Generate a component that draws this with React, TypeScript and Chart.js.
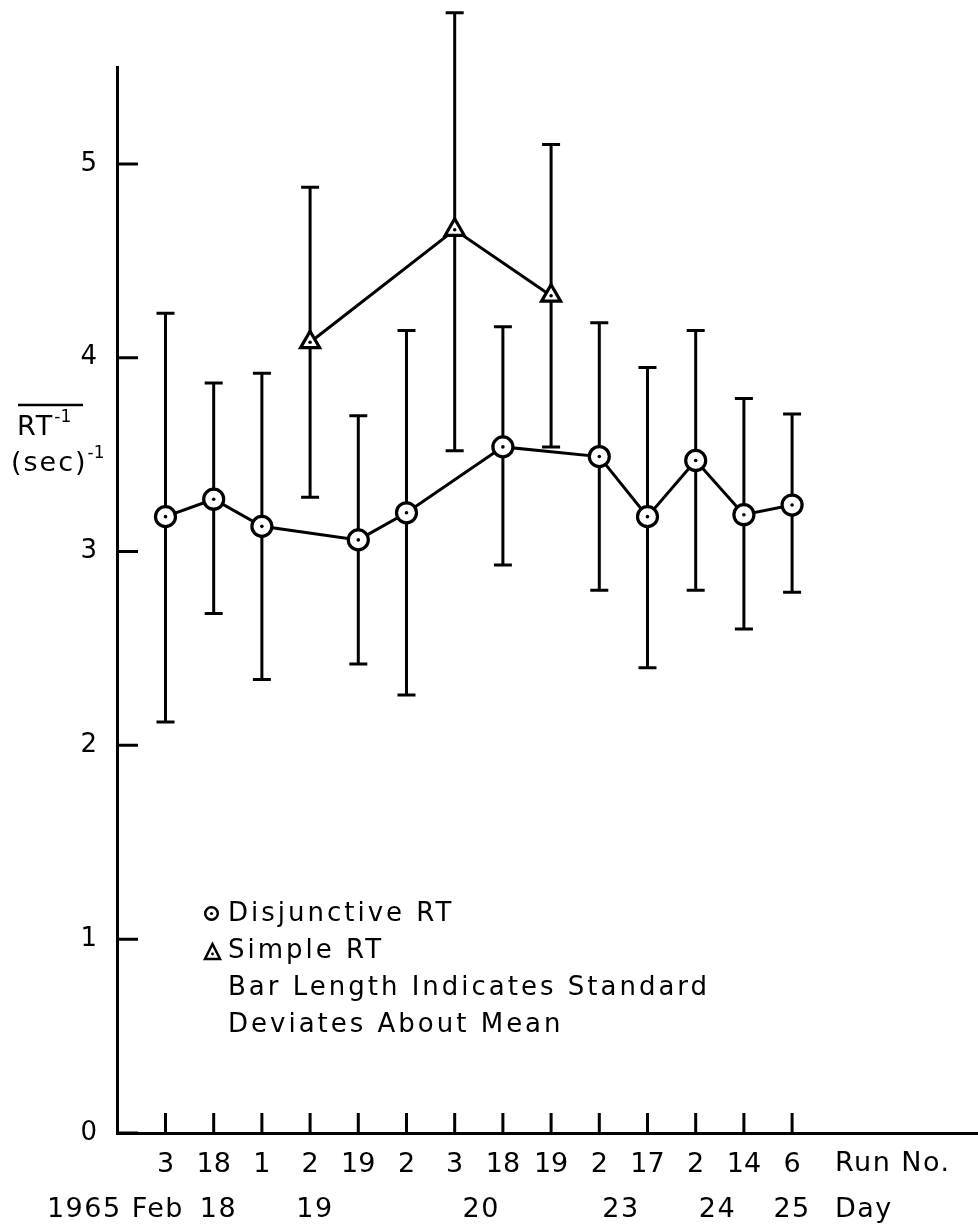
import React, { useEffect, useRef } from 'react';
import { Chart, registerables } from 'chart.js';
Chart.register(...registerables);

// Run numbers (x categories, by run index 0..13)
const runLabels = ['3', '18', '1', '2', '19', '2', '3', '18', '19', '2', '17', '2', '14', '6'];
const runIndex = [0, 1, 2, 3, 4, 5, 6, 7, 8, 9, 10, 11, 12, 13];
// Day labels and their run-index positions
const dayLabels = ['18', '19', '20', '23', '24', '25'];
const dayPositions = [1.1, 3.1, 6.55, 9.45, 11.45, 13.0];
const yTickValues = [0, 1, 2, 3, 4, 5];

// Disjunctive RT (circles)
const disjIdx = [0, 1, 2, 4, 5, 7, 9, 10, 11, 12, 13];
const disjMean = [3.18, 3.27, 3.13, 3.06, 3.2, 3.54, 3.49, 3.18, 3.47, 3.19, 3.24];
const disjHigh = [4.23, 3.87, 3.92, 3.7, 4.14, 4.16, 4.18, 3.95, 4.14, 3.79, 3.71];
const disjLow = [2.12, 2.68, 2.34, 2.42, 2.26, 2.93, 2.8, 2.4, 2.8, 2.6, 2.79];

// Simple RT (triangles)
const simpleIdx = [3, 6, 8];
const simpleMean = [4.08, 4.66, 4.32];
const simpleHigh = [4.88, 5.78, 5.1];
const simpleLow = [3.28, 3.52, 3.54];

const legendLines = ['Disjunctive RT', 'Simple RT', 'Bar Length Indicates Standard', 'Deviates About Mean'];

const FONT = '"DejaVu Sans", sans-serif';

export default function App() {
  const ref = useRef<HTMLCanvasElement>(null);

  useEffect(() => {
    document.body.style.margin = '0';
    const canvas = ref.current!;
    const pts = (idx: number[], vals: number[]) => idx.map((x, i) => ({ x, y: vals[i] }));

    const decor = {
      id: 'decor',
      beforeDatasetsDraw(chart: any) {
        const { ctx, scales } = chart;
        const xs = scales.x, ys = scales.y;
        ctx.save();
        ctx.strokeStyle = '#000';
        ctx.lineWidth = 3;
        const bars = (idx: number[], lo: number[], hi: number[]) => {
          idx.forEach((xi, i) => {
            const px = xs.getPixelForValue(xi);
            const pl = ys.getPixelForValue(lo[i]);
            const ph = ys.getPixelForValue(hi[i]);
            ctx.beginPath();
            ctx.moveTo(px, pl); ctx.lineTo(px, ph);
            ctx.moveTo(px - 9, pl); ctx.lineTo(px + 9, pl);
            ctx.moveTo(px - 9, ph); ctx.lineTo(px + 9, ph);
            ctx.stroke();
          });
        };
        bars(disjIdx, disjLow, disjHigh);
        bars(simpleIdx, simpleLow, simpleHigh);
        ctx.restore();
      },
      afterDraw(chart: any) {
        const { ctx, scales, chartArea } = chart;
        const xs = scales.x, ys = scales.y;
        ctx.save();
        ctx.strokeStyle = '#000';
        ctx.fillStyle = '#000';
        ctx.lineWidth = 3;
        // inward tick marks
        ctx.beginPath();
        runIndex.forEach((i) => {
          const px = xs.getPixelForValue(i);
          ctx.moveTo(px, chartArea.bottom);
          ctx.lineTo(px, chartArea.bottom - 20);
        });
        yTickValues.forEach((v) => {
          const py = ys.getPixelForValue(v);
          ctx.moveTo(chartArea.left, py);
          ctx.lineTo(chartArea.left + 21, py);
        });
        ctx.stroke();

        // axis end labels
        ctx.font = `27px ${FONT}`;
        ctx.textBaseline = 'middle';
        ctx.textAlign = 'left';
        (ctx as any).letterSpacing = '1.5px';
        ctx.fillText('Run No.', 835, 1164);
        ctx.fillText('Day', 835, 1210);
        // day row
        ctx.textAlign = 'center';
        dayLabels.forEach((d, i) => {
          ctx.fillText(d, xs.getPixelForValue(dayPositions[i]), 1210);
        });
        ctx.textAlign = 'right';
        ctx.fillText('1965 Feb', 184, 1210);

        // y axis title
        (ctx as any).letterSpacing = '2px';
        ctx.font = `27px ${FONT}`;
        ctx.textAlign = 'left';
        ctx.fillText('RT', 17, 428);
        const rtW = ctx.measureText('RT').width;
        ctx.fillText('(sec)', 11, 464);
        const secW = ctx.measureText('(sec)').width;
        (ctx as any).letterSpacing = '0px';
        ctx.font = `17px ${FONT}`;
        ctx.fillText('-1', 17 + rtW, 418);
        ctx.fillText('-1', 11 + secW, 454);
        ctx.lineWidth = 2.5;
        ctx.beginPath();
        ctx.moveTo(18, 405);
        ctx.lineTo(83, 405);
        ctx.stroke();

        // legend
        ctx.lineWidth = 2.5;
        ctx.beginPath();
        ctx.arc(211.5, 913.5, 6.3, 0, Math.PI * 2);
        ctx.stroke();
        ctx.beginPath();
        ctx.arc(211.5, 913.5, 1.6, 0, Math.PI * 2);
        ctx.fill();
        ctx.beginPath();
        ctx.moveTo(212.5, 944);
        ctx.lineTo(220, 959);
        ctx.lineTo(205, 959);
        ctx.closePath();
        ctx.stroke();
        ctx.beginPath();
        ctx.arc(212.5, 954, 1.4, 0, Math.PI * 2);
        ctx.fill();
        ctx.font = `26px ${FONT}`;
        (ctx as any).letterSpacing = '3px';
        ctx.textAlign = 'left';
        const ly = [914, 951, 988, 1025];
        legendLines.forEach((t, i) => ctx.fillText(t, 228, ly[i]));
        ctx.restore();
      },
    };

    const chart = new Chart(canvas, {
      type: 'line',
      data: {
        datasets: [
          {
            label: 'disj-dots',
            data: pts(disjIdx, disjMean),
            showLine: false,
            pointStyle: 'circle',
            pointRadius: 1.8,
            pointBorderWidth: 0,
            pointBackgroundColor: '#000',
            order: 0,
          },
          {
            label: 'simple-dots',
            data: pts(simpleIdx, simpleMean),
            showLine: false,
            pointStyle: 'circle',
            pointRadius: 1.8,
            pointBorderWidth: 0,
            pointBackgroundColor: '#000',
            order: 0,
          },
          {
            label: 'Disjunctive RT',
            data: pts(disjIdx, disjMean),
            borderColor: '#000',
            borderWidth: 3,
            pointStyle: 'circle',
            pointRadius: 10,
            pointBorderWidth: 3.2,
            pointBorderColor: '#000',
            pointBackgroundColor: '#fff',
            tension: 0,
            order: 1,
          },
          {
            label: 'Simple RT',
            data: pts(simpleIdx, simpleMean),
            borderColor: '#000',
            borderWidth: 3,
            pointStyle: 'triangle',
            pointRadius: 11,
            pointBorderWidth: 3.2,
            pointBorderColor: '#000',
            pointBackgroundColor: '#fff',
            tension: 0,
            order: 1,
          },
        ],
      },
      options: {
        animation: false,
        responsive: false,
        devicePixelRatio: 1,
        layout: { autoPadding: false, padding: { top: 67, right: 0, left: 0, bottom: 0 } },
        plugins: { legend: { display: false }, tooltip: { enabled: false } },
        scales: {
          x: {
            type: 'linear',
            min: -1.006,
            max: 16.857,
            afterBuildTicks: (s: any) => {
              s.ticks = runIndex.map((v) => ({ value: v }));
            },
            afterFit: (s: any) => {
              s.height = 98;
            },
            ticks: {
              autoSkip: false,
              maxRotation: 0,
              padding: 16,
              color: '#000',
              font: { family: FONT, size: 27 },
              callback: (v: any) => runLabels[Number(v)] ?? '',
            },
            grid: { display: false, drawTicks: false },
            border: { display: true, color: '#000', width: 3 },
          },
          y: {
            type: 'linear',
            min: 0,
            max: 5.5,
            afterBuildTicks: (s: any) => {
              s.ticks = yTickValues.map((v) => ({ value: v }));
            },
            afterFit: (s: any) => {
              s.width = 117;
            },
            ticks: {
              padding: 20,
              color: '#000',
              font: { family: FONT, size: 26 },
              callback: (v: any) => String(v),
            },
            grid: { display: false, drawTicks: false },
            border: { display: true, color: '#000', width: 3 },
          },
        },
      },
      plugins: [decor],
    });
    return () => chart.destroy();
  }, []);

  return (
    <div style={{ width: 978, height: 1231, background: '#fff' }}>
      <canvas ref={ref} width={978} height={1231} style={{ display: 'block' }} />
    </div>
  );
}
